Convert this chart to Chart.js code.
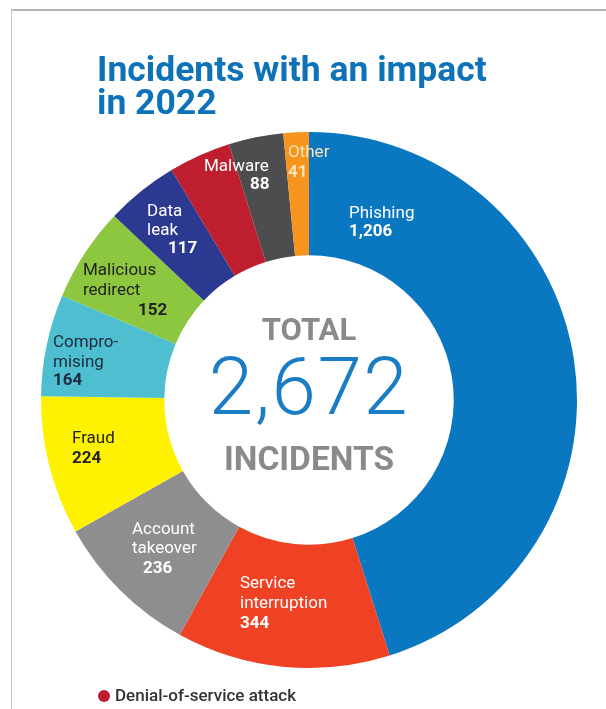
<!DOCTYPE html>
<html lang="en">
<head>
  <meta charset="UTF-8">
  <script src="https://cdn.jsdelivr.net/npm/chart.js"></script>
  <title>Incidents with an impact in 2022</title>
  <style>
    body { margin: 0; background: #fff; font-family: Roboto, sans-serif; }
    #wrap { position: relative; width: 606px; height: 709px; overflow: hidden; }
    #frameTop { position: absolute; left: 11px; top: 9px; width: 595px; height: 2px; background: #b4b4b4; }
    #frameLeft { position: absolute; left: 11px; top: 9px; width: 1px; height: 700px; background: #c4c4c4; }
    canvas { position: absolute; left: 0; top: 0; }
    .title { position: absolute; left: 97px; top: 53px; margin: 0; color: #0e72b9; font: 700 35.5px/33px Roboto; }
    .centre { position: absolute; left: 159px; width: 300px; text-align: center; margin: 0; }
    .tot { top: 311px; color: #8a8a8c; font: 700 31px Roboto; }
    .num { top: 340px; color: #1a7cc4; font: 300 80px Roboto; letter-spacing: 1.5px; }
    .inc { top: 439px; color: #8a8a8c; font: 700 33.5px Roboto; }
    .note { position: absolute; left: 98px; top: 685px; font: 500 17px Roboto; color: #333; }
    .note span { display: inline-block; width: 12px; height: 12px; border-radius: 50%; background: #be1e2d; margin-right: 5px; vertical-align: -1px; }
  </style>
</head>
<body>
  <div id="wrap">
    <div id="frameTop"></div>
    <div id="frameLeft"></div>
    <canvas id="donut" width="606" height="709"></canvas>
    <h1 class="title">Incidents with an impact<br>in 2022</h1>
    <p class="centre tot">TOTAL</p>
    <p class="centre num">2,672</p>
    <p class="centre inc">INCIDENTS</p>
    <div class="note"><span></span>Denial-of-service attack</div>
  </div>

  <script>
    // clockwise from 12 o'clock
    const categories = ["Phishing", "Service interruption", "Account takeover", "Fraud", "Compromising",
      "Malicious redirect", "Data leak", "Denial-of-service attack", "Malware", "Other"];
    const incidents = [1206, 344, 236, 224, 164, 152, 117, 100, 88, 41];
    const sliceColors = ["#0a77c1", "#ef4123", "#8e8e90", "#fff200", "#4ebfd0",
      "#8dc63f", "#2b3990", "#be1e2d", "#4d4d4f", "#f7941d"];

    // label text lines per slice, offsets from the doughnut centre (null = the value)
    const labelLayout = [
      { color: "#fff", lines: [["Phishing", 40, -182], [null, 40, -164]] },
      { color: "#fff", lines: [["Service", -69, 188], ["interruption", -69, 208], [null, -69, 228]] },
      { color: "#fff", lines: [["Account", -177, 134], ["takeover", -177, 153], [null, -166, 173]] },
      { color: "#222", lines: [["Fraud", -237, 43], [null, -237, 63]] },
      { color: "#1d2a3a", lines: [["Compro-", -256, -53], ["mising", -256, -33], [null, -256, -15]] },
      { color: "#222", lines: [["Malicious", -226, -125], ["redirect", -226, -105], [null, -171, -85]] },
      { color: "#fff", lines: [["Data", -162, -184], ["leak", -162, -165], [null, -141, -147]] },
      null,
      { color: "#fff", lines: [["Malware", -105, -229], [null, -59, -211]] },
      { color: "#fde3b8", lines: [["Other", -21, -243], [null, -21, -223]] }
    ];

    const sliceLabels = {
      id: "sliceLabels",
      afterDatasetsDraw(chart) {
        const ctx = chart.ctx;
        const arcs = chart.getDatasetMeta(0).data;
        ctx.save();
        ctx.textBaseline = "alphabetic";
        arcs.forEach((arc, i) => {
          const lay = labelLayout[i];
          if (!lay) return;
          ctx.fillStyle = lay.color;
          lay.lines.forEach(([txt, dx, dy]) => {
            const bold = txt === null;
            ctx.font = (bold ? "700 " : "400 ") + "17px Roboto";
            ctx.fillText(bold ? incidents[i].toLocaleString("en-US") : txt, arc.x + dx, arc.y + dy);
          });
        });
        ctx.restore();
      }
    };

    new Chart(document.getElementById("donut"), {
      type: "doughnut",
      data: {
        labels: categories,
        datasets: [{ data: incidents, backgroundColor: sliceColors, borderWidth: 0 }]
      },
      options: {
        responsive: false,
        animation: false,
        cutout: "54%",
        layout: { padding: { left: 41, right: 29, top: 132, bottom: 41 } },
        plugins: { legend: { display: false }, tooltip: { enabled: false } }
      },
      plugins: [sliceLabels]
    });
  </script>
</body>
</html>
